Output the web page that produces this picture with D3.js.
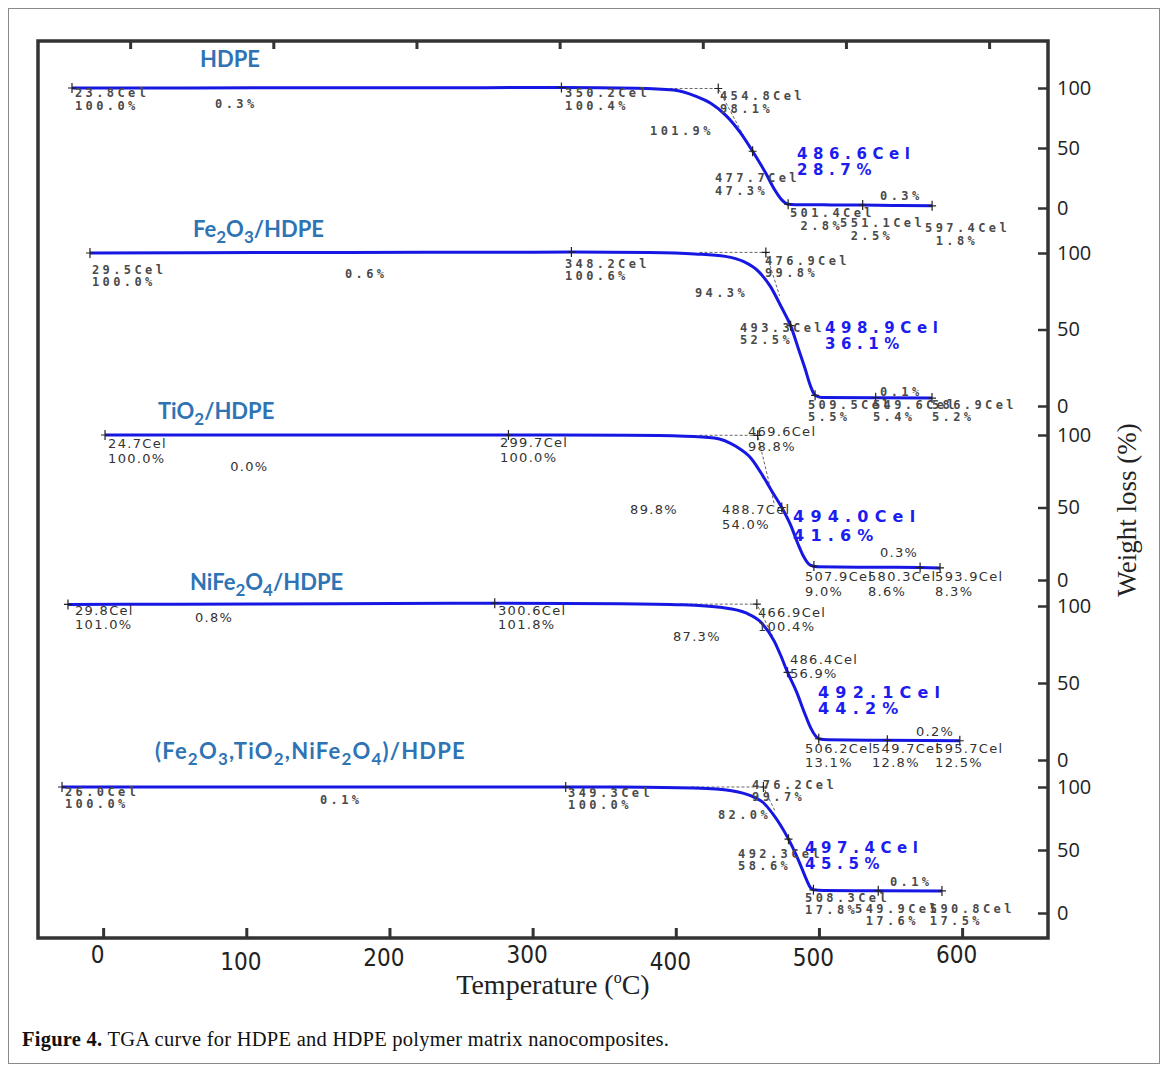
<!DOCTYPE html>
<html>
<head>
<meta charset="utf-8">
<script src="https://cdn.jsdelivr.net/npm/d3@7"></script>
<style>
  body { margin: 0; background: #fff; }
  svg { display: block; }
</style>
</head>
<body>
<script>
// ---------------- data ----------------
var tempTicks = [0, 100, 200, 300, 400, 500, 600];
var weightTicks = [0, 50, 100];

// sample names ("_n" = subscript digit)
var names = ["HDPE", "Fe_2O_3/HDPE", "TiO_2/HDPE", "NiFe_2O_4/HDPE", "(Fe_2O_3,TiO_2,NiFe_2O_4)/HDPE"];

// TGA curves: [temperature Cel, weight %]
var hdpeCurve = [[23.8,100.0],[100,100.1],[200,100.2],[300,100.3],[350.2,100.4],[400,99.8],[425,98.3],[440,93],[450,87],[460,77],[470,62],[477.7,47.3],[486.6,28.7],[492,16],[497,7],[501.4,3.2],[506,2.8],[530,2.6],[551.1,2.5],[575,2.1],[597.4,1.8]];
var fe2o3Curve = [[29.5,100.0],[100,100.2],[200,100.4],[300,100.5],[348.2,100.6],[400,100.3],[430,99.4],[450,97.8],[462,94.5],[472,88],[480,78],[487,65],[493.3,52.5],[498.9,36.1],[503,24],[506.5,13],[509.5,7],[514,5.6],[549.6,5.4],[586.9,5.2]];
var tio2Curve = [[24.7,100.0],[100,100.0],[200,100.0],[299.7,100.0],[380,99.8],[420,99.2],[440,98],[455,92],[465,84],[473,72],[480,60],[486,50],[492,38],[497,25],[501,16],[505,10.5],[510,9.1],[550,8.8],[580.3,8.6],[593.9,8.3]];
var nife2o4Curve = [[29.8,101.0],[100,101.2],[200,101.5],[300.6,101.8],[380,101.5],[420,100.8],[445,99],[460,95.5],[470,89],[478,77],[482,68],[486.4,56.9],[492.1,44.2],[497,31],[501,21],[504,15.8],[506.2,13.8],[512,13.1],[549.7,12.8],[595.7,12.5]];
var mixCurve = [[26.0,100.0],[100,100.0],[200,100.0],[349.3,100.0],[400,99.8],[440,98.8],[460,96],[470,92],[476.2,87.5],[482,79],[487,70],[492.3,58.6],[497.4,45.5],[501,35],[504,26],[506.5,20],[508.3,18.4],[515,17.8],[549.9,17.6],[590.8,17.5]];

// "+" analysis points
var hdpeMarks = [[23.8,100],[350.2,100.4],[454.8,99.6],[477.7,47.3],[501.4,3.2],[551.1,2.5],[597.4,1.8]];
var fe2o3Marks = [[29.5,100],[348.2,100.6],[476.9,100.4],[493.3,52.5],[509.5,7],[549.6,5.4],[586.9,5.2]];
var tio2Marks = [[24.7,100],[299.7,100],[469.6,99.8],[486,50],[507.9,9.6],[580.3,8.6],[593.9,8.3]];
var nife2o4Marks = [[29.8,101],[300.6,101.8],[466.9,101.2],[486.4,56.9],[506.2,13.8],[549.7,12.8],[595.7,12.5]];
var mixMarks = [[26,100],[349.3,100],[476.2,100],[492.3,58.6],[508.3,18.4],[549.9,17.6],[590.8,17.5]];

// extrapolated onset construction (dashed)
var hdpeOnset = [[409,99.6],[454.8,99.6],[476,50]];
var fe2o3Onset = [[433,100.4],[476.9,100.4],[486,72]];
var tio2Onset = [[430,99.8],[469.6,99.8],[481,52]];
var nife2o4Onset = [[418,101.2],[466.9,101.2],[480,74]];
var mixOnset = [[430,100],[476.2,100],[484,80]];

// instrument annotations, placed at [t, w] in the panel's own units
var hdpeNotes = [
  {t:25.8, w:92.5, text:["23.8Cel","100.0%"]},
  {t:119.2, w:83.3, text:["0.3%"]},
  {t:352.6, w:92.5, text:["350.2Cel","100.4%"]},
  {t:455.9, w:90, text:["454.8Cel","98.1%"]},
  {t:409.3, w:60.8, text:["101.9%"]},
  {t:452.6, w:21.7, text:["477.7Cel","47.3%"]},
  {t:562.7, w:6.7, text:["0.3%"]},
  {t:502.6, w:-7.5, text:["501.4Cel"," 2.8%"]},
  {t:536, w:-15.8, text:["551.1Cel"," 2.5%"]},
  {t:592.7, w:-20, text:["597.4Cel"," 1.8%"]}
];
var fe2o3Notes = [
  {t:30.8, w:86.3, text:["29.5Cel","100.0%"]},
  {t:198.3, w:83.7, text:["0.6%"]},
  {t:343.9, w:90.2, text:["348.2Cel","100.6%"]},
  {t:476.3, w:92.2, text:["476.9Cel","99.8%"]},
  {t:430, w:71.2, text:["94.3%"]},
  {t:459.8, w:48.4, text:["493.3Cel","52.5%"]},
  {t:552.5, w:6.5, text:["0.1%"]},
  {t:504.8, w:-2, text:["509.5Cel","5.5%"]},
  {t:547.8, w:-2, text:["549.6Cel","5.4%"]},
  {t:586.9, w:-2, text:["586.9Cel","5.2%"]}
];
var tio2Notes = [
  {t:26.8, w:91, text:["24.7Cel","100.0%"]},
  {t:110, w:75.2, text:["0.0%"]},
  {t:293.9, w:91.7, text:["299.7Cel","100.0%"]},
  {t:463, w:99.3, text:["469.6Cel","98.8%"]},
  {t:382.6, w:45.5, text:["89.8%"]},
  {t:445.3, w:45.5, text:["488.7Cel","54.0%"]},
  {t:553, w:15.9, text:["0.3%"]},
  {t:501.8, w:-0.7, text:["507.9Cel","9.0%"]},
  {t:544.8, w:-0.7, text:["580.3Cel","8.6%"]},
  {t:590.5, w:-0.7, text:["593.9Cel","8.3%"]}
];
var nife2o4Notes = [
  {t:34.3, w:94.3, text:["29.8Cel","101.0%"]},
  {t:110.4, w:89.3, text:["0.8%"]},
  {t:302.7, w:94.3, text:["300.6Cel","101.8%"]},
  {t:467.6, w:93.1, text:["466.9Cel","100.4%"]},
  {t:413.7, w:77.4, text:["87.3%"]},
  {t:487.9, w:62.3, text:["486.4Cel","56.9%"]},
  {t:567.9, w:15.8, text:["0.2%"]},
  {t:497.5, w:4.4, text:["506.2Cel","13.1%"]},
  {t:540, w:4.4, text:["549.7Cel","12.8%"]},
  {t:580, w:4.4, text:["595.7Cel","12.5%"]}
];
var mixNotes = [
  {t:27.9, w:93.1, text:["26.0Cel","100.0%"]},
  {t:191.6, w:86.2, text:["0.1%"]},
  {t:350.8, w:92.3, text:["349.3Cel","100.0%"]},
  {t:468.9, w:98.5, text:["476.2Cel","99.7%"]},
  {t:447, w:74.6, text:["82.0%"]},
  {t:459.9, w:43.8, text:["492.3Cel","58.6%"]},
  {t:557.4, w:21.5, text:["0.1%"]},
  {t:502.9, w:8.5, text:["508.3Cel","17.8%"]},
  {t:535, w:0, text:["549.9Cel"," 17.6%"]},
  {t:583, w:0, text:["590.8Cel","17.5%"]}
];

// peak (blue) annotations
var hdpePeak = {t:507.3, w:40.8, text:["486.6Cel","28.7%"]};
var fe2o3Peak = {t:516, w:47.7, text:["498.9Cel","36.1%"]};
var tio2Peak = {t:493.7, w:40, text:["494.0Cel","41.6%"]};
var nife2o4Peak = {t:505.7, w:40.5, text:["492.1Cel","44.2%"]};
var mixPeak = {t:502.9, w:47.7, text:["497.4Cel","45.5%"]};

var samples = [
  {curve: hdpeCurve, marks: hdpeMarks, onset: hdpeOnset, notes: hdpeNotes, peak: hdpePeak},
  {curve: fe2o3Curve, marks: fe2o3Marks, onset: fe2o3Onset, notes: fe2o3Notes, peak: fe2o3Peak},
  {curve: tio2Curve, marks: tio2Marks, onset: tio2Onset, notes: tio2Notes, peak: tio2Peak},
  {curve: nife2o4Curve, marks: nife2o4Marks, onset: nife2o4Onset, notes: nife2o4Notes, peak: nife2o4Peak},
  {curve: mixCurve, marks: mixMarks, onset: mixOnset, notes: mixNotes, peak: mixPeak}
];

// ---------------- layout ----------------
var W = 1168, H = 1072;
var frame = {left: 38, right: 1048, top: 41, bottom: 938};

// each pasted instrument panel has its own pixel mapping
var layout = [
  {x0: 36.3, x600: 936,   y100: 88,  y0: 208, nameX: 200, nameY: 67,  nameLs: 0,   small: true,  lh: 13, peakLh: 16},
  {x0: 45.4, x600: 951.8, y100: 253, y0: 406, nameX: 193, nameY: 237, nameLs: 0,   small: true,  lh: 12, peakLh: 16},
  {x0: 68.8, x600: 949,   y100: 435, y0: 580, nameX: 158, nameY: 419, nameLs: 0,   small: false, lh: 15, peakLh: 19},
  {x0: 21,   x600: 966.6, y100: 606, y0: 760, nameX: 190, nameY: 590, nameLs: 0,   small: false, lh: 14, peakLh: 16},
  {x0: 21.5, x600: 956.3, y100: 787, y0: 913, nameX: 155, nameY: 759, nameLs: 1.2, small: true,  lh: 12, peakLh: 16}
];
var bottomLabelShift = [0, 7, 3, 0, 7, 3, 0];

var svg = d3.select("body").append("svg")
    .attr("width", W)
    .attr("height", H);

svg.append("rect")
    .attr("x", 8.5).attr("y", 8.5)
    .attr("width", W - 17).attr("height", H - 17)
    .attr("fill", "#fff")
    .attr("stroke", "#8a8a8a");

// Temperature axis
var x = d3.scaleLinear()
    .domain([-45.5, 660])
    .range([frame.left, frame.right]);

var xAxis = svg.append("g")
    .attr("transform", "translate(0," + frame.bottom + ")")
    .call(d3.axisBottom(x).tickValues(tempTicks).tickSizeInner(-10).tickSizeOuter(0).tickPadding(8));
xAxis.select(".domain").remove();
xAxis.selectAll(".tick line").attr("stroke", "#333").attr("stroke-width", 3);
xAxis.selectAll(".tick text")
    .attr("dx", -6)
    .attr("y", function(d, i) { return 8 + bottomLabelShift[i]; })
    .style("font-family", "'Liberation Sans Narrow', 'DejaVu Sans Condensed', 'Liberation Sans', sans-serif")
    .style("font-stretch", "condensed")
    .style("font-size", "24px")
    .style("fill", "#222");

var topAxis = svg.append("g")
    .attr("transform", "translate(27," + frame.top + ")")
    .call(d3.axisTop(x).tickValues(tempTicks).tickSizeInner(-8).tickSizeOuter(0).tickFormat(""));
topAxis.select(".domain").remove();
topAxis.selectAll(".tick line").attr("stroke", "#333").attr("stroke-width", 3);

// plot frame
svg.append("rect")
    .attr("x", frame.left).attr("y", frame.top)
    .attr("width", frame.right - frame.left)
    .attr("height", frame.bottom - frame.top)
    .attr("fill", "none")
    .attr("stroke", "#333")
    .attr("stroke-width", 3.5);

// axis titles
var title = svg.append("text")
    .attr("x", 553).attr("y", 994)
    .attr("text-anchor", "middle")
    .style("font-family", "'Liberation Serif', 'Times New Roman', serif")
    .style("font-size", "28px")
    .style("fill", "#222");
title.append("tspan").text("Temperature (");
title.append("tspan").attr("dy", -11).style("font-size", "16px").text("o");
title.append("tspan").attr("dy", 11).text("C)");

svg.append("text")
    .attr("transform", "translate(1136,510) rotate(-90)")
    .attr("text-anchor", "middle")
    .style("font-family", "'Liberation Serif', 'Times New Roman', serif")
    .style("font-size", "27px")
    .style("fill", "#222")
    .text("Weight loss (%)");

// caption
var cap = svg.append("text")
    .attr("x", 22).attr("y", 1046)
    .style("font-family", "'Liberation Serif', 'Times New Roman', serif")
    .style("font-size", "20.5px")
    .style("letter-spacing", "0.25px")
    .style("fill", "#111");
cap.append("tspan").style("font-weight", "bold").text("Figure 4.");
cap.append("tspan").text(" TGA curve for HDPE and HDPE polymer matrix nanocomposites.");

// ---------------- panels ----------------
samples.forEach(function(s, i) {
  var p = layout[i];
  var px = d3.scaleLinear().domain([0, 600]).range([p.x0, p.x600]);
  var py = d3.scaleLinear().domain([0, 100]).range([p.y0, p.y100]);
  var g = svg.append("g");

  // right weight axis for this panel
  var ya = g.append("g")
      .attr("transform", "translate(" + frame.right + ",0)")
      .call(d3.axisRight(py).tickValues(weightTicks).tickSizeInner(-10).tickSizeOuter(0).tickPadding(9));
  ya.select(".domain").remove();
  ya.selectAll(".tick line").attr("stroke", "#333").attr("stroke-width", 2.5);
  ya.selectAll(".tick text")
      .style("font-family", "'Open Sans', sans-serif")
      .style("font-size", "20px")
      .style("fill", "#222");

  var line = d3.line()
      .x(function(d) { return px(d[0]); })
      .y(function(d) { return py(d[1]); });

  // onset construction
  g.append("path")
      .datum(s.onset)
      .attr("d", line.curve(d3.curveLinear))
      .attr("fill", "none")
      .attr("stroke", "#666")
      .attr("stroke-width", 1)
      .attr("stroke-dasharray", "3,2");

  // the TGA curve
  g.append("path")
      .datum(s.curve)
      .attr("d", line.curve(d3.curveMonotoneX))
      .attr("fill", "none")
      .attr("stroke", "#1717e3")
      .attr("stroke-width", 3);

  // "+" markers
  g.selectAll(".mark").data(s.marks).enter()
    .append("path")
      .attr("class", "mark")
      .attr("transform", function(d) { return "translate(" + px(d[0]) + "," + py(d[1]) + ")"; })
      .attr("d", "M-4,0H4M0,-5V5")
      .attr("stroke", "#222")
      .attr("stroke-width", 1.2);

  // grey annotations
  var noteFont = p.small ? "'DejaVu Sans Mono', monospace" : "'DejaVu Sans', sans-serif";
  s.notes.forEach(function(n) {
    n.text.forEach(function(t, k) {
      g.append("text")
          .attr("x", px(n.t))
          .attr("y", py(n.w) + k * p.lh)
          .style("font-family", noteFont)
          .style("font-weight", p.small ? "bold" : "normal")
          .style("font-size", p.small ? "12px" : "13px")
          .style("letter-spacing", p.small ? "3.4px" : "1.3px")
          .style("white-space", "pre")
          .style("fill", p.small ? "#4a4a4a" : "#333")
          .text(t);
    });
  });

  // blue peak annotation
  s.peak.text.forEach(function(t, k) {
    g.append("text")
        .attr("x", px(s.peak.t))
        .attr("y", py(s.peak.w) + k * p.peakLh)
        .style("font-family", "'DejaVu Sans', sans-serif")
        .style("font-weight", "bold")
        .style("font-size", p.small ? "15px" : "16px")
        .style("letter-spacing", p.small ? "5.6px" : "6.2px")
        .style("fill", "#1c1cf0")
        .text(t);
  });

  // sample name with subscripts
  var nm = g.append("text")
      .attr("x", p.nameX).attr("y", p.nameY)
      .style("font-family", "Lato, 'Open Sans', sans-serif")
      .style("font-weight", "bold")
      .style("font-size", "22px")
      .style("letter-spacing", p.nameLs + "px")
      .style("fill", "#2e74b5");
  var shift = 0;
  names[i].split(/_(\d)/).forEach(function(part, k) {
    if (!part) return;
    var ts = nm.append("tspan").text(part);
    if (k % 2 === 1) {
      ts.attr("dy", 6 - shift).style("font-size", "17px");
      shift = 6;
    } else if (shift) {
      ts.attr("dy", -shift);
      shift = 0;
    }
  });
});
</script>
</body>
</html>
